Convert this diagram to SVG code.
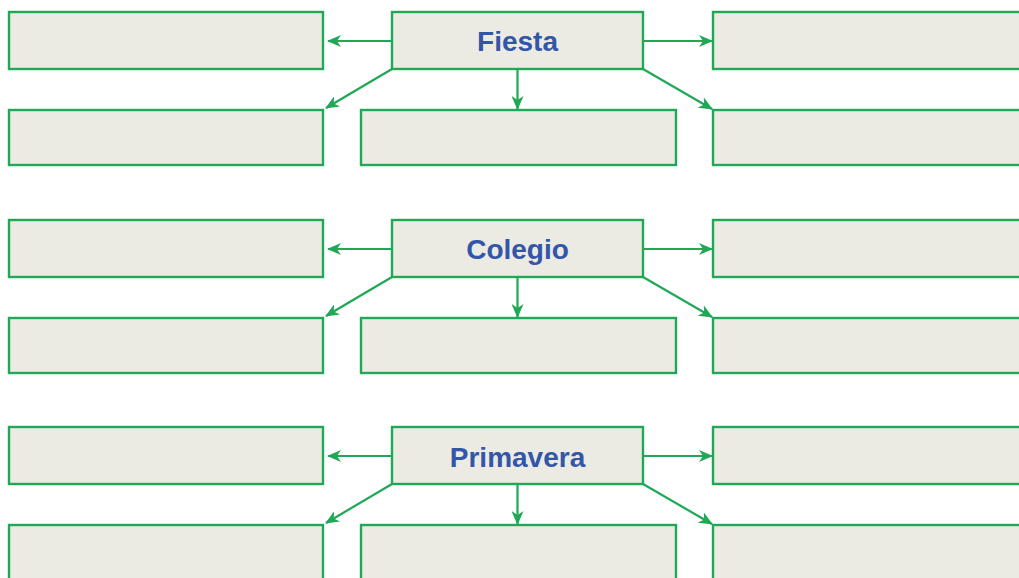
<svg xmlns="http://www.w3.org/2000/svg" width="1019" height="578" viewBox="0 0 1019 578">
<style>
.b{fill:#ebebe3;stroke:#1fa957;stroke-width:2.4}
.c{stroke:#1fa957;stroke-width:2.2;fill:none}
.t{font-family:"Liberation Sans",Arial,sans-serif;font-weight:bold;font-size:28px;fill:#3356a8;text-anchor:middle}
</style>
<defs>
<marker id="ah" markerWidth="14" markerHeight="12" refX="13" refY="6" orient="auto" markerUnits="userSpaceOnUse">
<path d="M0,0 L14,6 L0,12 L4,6 Z" fill="#1fa957"/>
</marker>
<g id="set">
<rect class="b" x="9" y="12" width="314" height="57"/>
<rect class="b" x="713" y="12" width="320" height="57"/>
<rect class="b" x="9" y="110" width="314" height="55"/>
<rect class="b" x="361" y="110" width="315" height="55"/>
<rect class="b" x="713" y="110" width="320" height="55"/>
<rect class="b" x="392" y="12" width="251" height="57"/>
</g>
<g id="arr">
<line class="c" x1="392" y1="41" x2="328" y2="41" marker-end="url(#ah)"/>
<line class="c" x1="643" y1="41" x2="712" y2="41" marker-end="url(#ah)"/>
<line class="c" x1="392" y1="69" x2="326" y2="108" marker-end="url(#ah)"/>
<line class="c" x1="517.5" y1="69" x2="517.5" y2="109" marker-end="url(#ah)"/>
<line class="c" x1="643" y1="69" x2="712" y2="109" marker-end="url(#ah)"/>
</g>
</defs>
<g id="n-fiesta"><use href="#set"/><text class="t" x="517.5" y="50.5">Fiesta</text></g>
<g id="n-colegio" transform="translate(0,208)"><use href="#set"/><text class="t" x="517.5" y="50.5">Colegio</text></g>
<g id="n-primavera" transform="translate(0,415)"><use href="#set"/><text class="t" x="517.5" y="51.5">Primavera</text></g>
<g id="connectors">
<use href="#arr"/>
<use href="#arr" transform="translate(0,208)"/>
<use href="#arr" transform="translate(0,415)"/>
</g>
</svg>
